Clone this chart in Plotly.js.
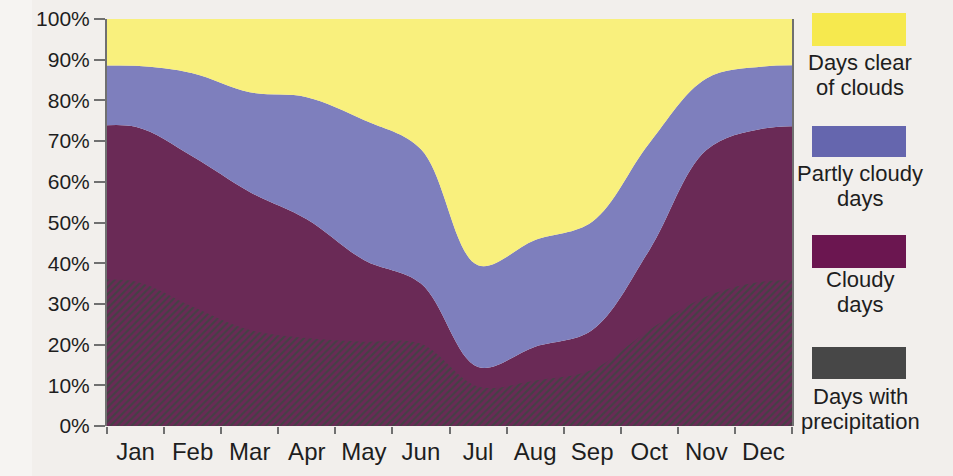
<!DOCTYPE html>
<html>
<head>
<meta charset="utf-8">
<script src="https://cdn.plot.ly/plotly-3.0.1.min.js"></script>
<style>html,body{margin:0;padding:0;background:#f2efec;}#chart{width:953px;height:476px;}</style>
</head>
<body>
<div id="chart"></div>
<script>
// ---- data (percent of days per month) ----
const months = ['Jan','Feb','Mar','Apr','May','Jun','Jul','Aug','Sep','Oct','Nov','Dec'];
const cloudy = [73.5, 66.2, 57.5, 50.8, 40.8, 35.0, 14.5, 19.5, 23.6, 43.2, 67.8, 73.1];
const partly = [15.0, 20.5, 24.5, 30.0, 34.4, 33.0, 25.0, 26.2, 26.6, 26.3, 17.6, 15.2];
const clear  = [11.5, 13.3, 18.0, 19.2, 24.8, 32.0, 60.5, 54.3, 49.8, 30.5, 14.6, 11.7];
const precip = [35.5, 29.3, 23.6, 21.6, 20.7, 20.2,  9.7, 11.2, 13.8, 23.6, 31.8, 35.5];
const yTicks = [0, 10, 20, 30, 40, 50, 60, 70, 80, 90, 100];
const legendNames = [['Days clear','of clouds'],['Partly cloudy','days'],['Cloudy','days'],['Days with','precipitation']];

// ---- styles ----
const areaColors = {clear:'#f9f07d', partly:'#7e7fbd', cloudy:'#6a2a56'};
const legendColors = ['#f6e94e','#6566ae','#6b1650','#474747'];
const FONT = 'Liberation Sans, Arial, sans-serif';

// climatological cycle: wrap Dec before Jan and Jan after Dec so the curves reach the plot edges
const xs = [-0.5].concat(months.map((m,i)=>i+0.5), [12.5]);
const wrap = a => [a[a.length-1]].concat(a, [a[0]]);

const common = {x: xs, mode:'lines', line:{width:0, shape:'spline', smoothing:1}, hoverinfo:'skip', showlegend:false};
const traces = [
  Object.assign({}, common, {y: wrap(cloudy), stackgroup:'sky', fillcolor: areaColors.cloudy, name:'Cloudy days'}),
  Object.assign({}, common, {y: wrap(partly), stackgroup:'sky', fillcolor: areaColors.partly, name:'Partly cloudy days'}),
  Object.assign({}, common, {y: wrap(clear),  stackgroup:'sky', fillcolor: areaColors.clear,  name:'Days clear of clouds'}),
  Object.assign({}, common, {y: wrap(precip), fill:'tozeroy', name:'Days with precipitation',
     fillcolor: areaColors.cloudy,
     fillpattern:{shape:'/', bgcolor: areaColors.cloudy, fgcolor:'#454045', size:5, solidity:0.42, fillmode:'replace'}})
];

// pixel helpers for the hand-drawn legend
const L = 107, R = 792, T = 19, B = 426;
const px = x => (x - L) / (R - L);
const py = y => (B - y) / (B - T);

const rectY = [[13,46],[126,157],[235,268],[347,379]];
const textY = [[62,87],[173,198],[279,304],[396,421]];
const shapes = [
  {type:'rect', xref:'paper', yref:'paper', x0:px(0), x1:px(32), y0:py(476), y1:py(0), fillcolor:'#f6f4f2', line:{width:0}, layer:'below'}
];
const annotations = [];
legendNames.forEach((lines, i) => {
  shapes.push({type:'rect', xref:'paper', yref:'paper', x0:px(812), x1:px(906), y0:py(rectY[i][1]), y1:py(rectY[i][0]),
    fillcolor: legendColors[i], line:{width:0}});
  lines.forEach((t, j) => {
    annotations.push({xref:'paper', yref:'paper', x:px(860), y:py(textY[i][j]), xanchor:'center', yanchor:'middle',
      text:t, showarrow:false, font:{family:FONT, size:22, color:'#1e1e1e'}});
  });
});

const layout = {
  width:953, height:476,
  margin:{l:L, r:953-R, t:T, b:476-B},
  paper_bgcolor:'#f2efec', plot_bgcolor:'#f2efec',
  font:{family:FONT, color:'#1e1e1e'},
  xaxis:{range:[0,12], tickmode:'array', tickvals: months.map((m,i)=>i+0.5), ticktext: months,
    ticks:'outside', ticklen:4, tickwidth:1, tickcolor:'rgba(0,0,0,0)',
    minor:{tickmode:'array', tickvals: months.map((m,i)=>i).concat([12]), ticks:'outside', ticklen:7, tickwidth:2, tickcolor:'#707070', showgrid:false},
    showgrid:false, zeroline:false, showline:false, tickfont:{family:FONT, size:24, color:'#1e1e1e'}, fixedrange:true},
  yaxis:{range:[0,100], tickmode:'array', tickvals: yTicks, ticktext: yTicks.map(v => v + '%'),
    ticks:'outside', ticklen:11, tickwidth:2, tickcolor:'#707070',
    showline:true, linecolor:'#707070', linewidth:2, mirror:true,
    showgrid:false, zeroline:false, tickfont:{family:FONT, size:21, color:'#1e1e1e'}, fixedrange:true},
  shapes: shapes,
  annotations: annotations
};

Plotly.newPlot('chart', traces, layout, {displayModeBar:false, staticPlot:true});
</script>
</body>
</html>
